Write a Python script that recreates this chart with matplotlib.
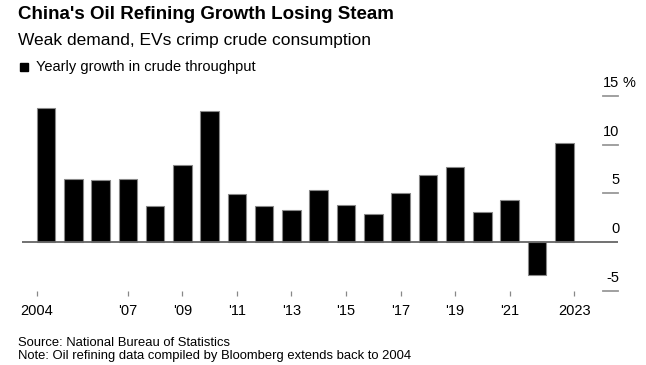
import matplotlib.pyplot as plt
import numpy as np

plt.rcParams['font.family'] = ['Liberation Sans', 'DejaVu Sans']

# yearly growth in crude throughput, %
years = list(range(2004, 2024))
growth = [13.7, 6.5, 6.35, 6.45, 3.7, 7.9, 13.45, 4.9, 3.7, 3.3,
          5.3, 3.85, 2.85, 5.05, 6.9, 7.7, 3.05, 4.35, -3.35, 10.2]

tick_pos = [2003.66, 2007, 2009, 2011, 2013, 2015, 2017, 2019, 2021, 2023.37]
tick_labels = ['2004', "'07", "'09", "'11", "'13", "'15", "'17", "'19", "'21", '2023']
y_ticks = [15, 10, 5, 0, -5]

fig = plt.figure(figsize=(6.46, 3.65), dpi=100)
ax = fig.add_axes([22 / 646, 74 / 365, 596 / 646, 195.3 / 365])

ax.bar(years, growth, width=0.68, color='black', edgecolor='#888888', linewidth=0.8, zorder=3)

ax.set_xlim(2003.12, 2024.97)
ax.set_ylim(-5, 15)

for s in ax.spines.values():
    s.set_visible(False)

# zero line full width, other gridlines as short stubs on the right
ax.axhline(0, color='#666666', lw=1.3, zorder=4)
for v in y_ticks:
    if v != 0:
        ax.plot([0.975, 1.0], [v, v], transform=ax.get_yaxis_transform(),
                color='#999999', lw=1.3, clip_on=False)
    lab = str(v) if v >= 0 else '-' + str(-v)
    ax.annotate(lab, xy=(1.0, v), xycoords=('axes fraction', 'data'),
                xytext=(0.9, 9.3), textcoords='offset points',
                ha='right', va='center', fontsize=10.5, color='black')
ax.annotate('%', xy=(1.0, 15), xycoords=('axes fraction', 'data'),
            xytext=(3.3, 9.3), textcoords='offset points',
            ha='left', va='center', fontsize=10.5, color='black')

ax.set_yticks([])
ax.set_xticks(tick_pos)
ax.set_xticklabels(tick_labels, fontsize=10.5)
ax.tick_params(axis='x', length=3.6, width=0.9, color='#888888', pad=6)

fig.text(18 / 646, 1 - 19 / 365, "China's Oil Refining Growth Losing Steam",
         fontsize=13.5, fontweight='bold', va='baseline')
fig.text(18 / 646, 1 - 45.5 / 365, 'Weak demand, EVs crimp crude consumption',
         fontsize=12.5, va='baseline')
fig.patches.append(plt.Rectangle((20 / 646, 1 - 71 / 365), 8 / 646, 8 / 365,
                                 transform=fig.transFigure, color='black'))
fig.text(36 / 646, 1 - 71 / 365, 'Yearly growth in crude throughput',
         fontsize=10.5, va='baseline')

fig.text(18 / 646, 1 - 346.5 / 365, 'Source: National Bureau of Statistics',
         fontsize=9.4, va='baseline')
fig.text(18 / 646, 1 - 359 / 365, 'Note: Oil refining data compiled by Bloomberg extends back to 2004',
         fontsize=9.4, va='baseline')

fig.savefig('out.png', dpi=100)
